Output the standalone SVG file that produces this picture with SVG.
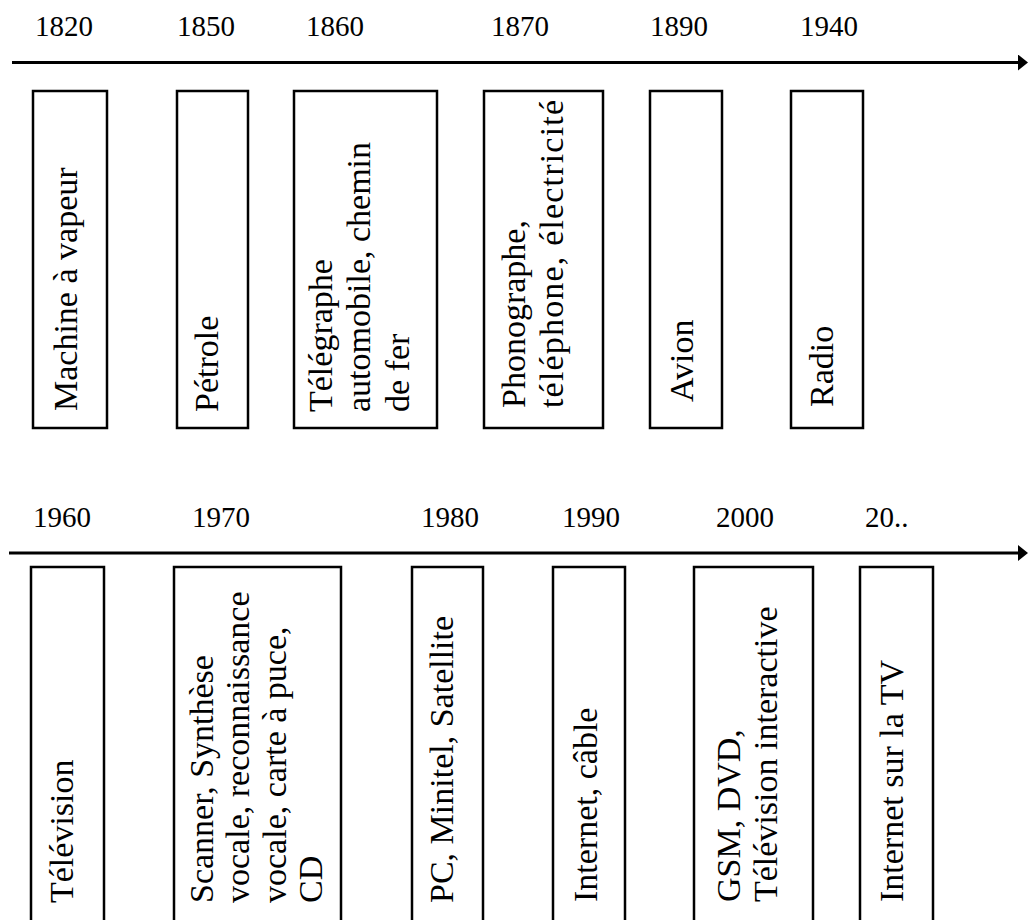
<svg xmlns="http://www.w3.org/2000/svg" width="1028" height="920" viewBox="0 0 1028 920">
<style>
.box{fill:none;stroke:#000;stroke-width:2.5}
.lbl{font-family:"Liberation Serif","Times New Roman",serif;font-size:34px;fill:#000}
.yr{font-family:"Liberation Serif","Times New Roman",serif;font-size:29px;fill:#000}
.axis{stroke:#000;stroke-width:3;fill:none}
</style>
<defs>
<marker id="arr" viewBox="0 0 10 16" refX="0" refY="8" markerWidth="10" markerHeight="16" markerUnits="userSpaceOnUse" orient="auto">
<path d="M0,0 L10,8 L0,16 z" fill="#000"/>
</marker>
</defs>
<rect width="1028" height="920" fill="#fff"/>
<g id="connectors">
<line class="axis" x1="12" y1="62.5" x2="1018" y2="62.5" marker-end="url(#arr)"/>
<line class="axis" x1="9" y1="553" x2="1018" y2="553" marker-end="url(#arr)"/>
</g>
<g id="years">
<text class="yr" x="35" y="36">1820</text>
<text class="yr" x="177" y="36">1850</text>
<text class="yr" x="306" y="36">1860</text>
<text class="yr" x="491" y="36">1870</text>
<text class="yr" x="650" y="36">1890</text>
<text class="yr" x="800" y="36">1940</text>
<text class="yr" x="33" y="527">1960</text>
<text class="yr" x="192" y="527">1970</text>
<text class="yr" x="421" y="527">1980</text>
<text class="yr" x="562" y="527">1990</text>
<text class="yr" x="716" y="527">2000</text>
<text class="yr" x="865" y="527">20..</text>
</g>
<g id="n1820">
<rect class="box" x="33" y="91" width="74" height="337"/>
<text class="lbl" transform="translate(77,411) rotate(-90)">Machine à vapeur</text>
</g>
<g id="n1850">
<rect class="box" x="177" y="91" width="71" height="337"/>
<text class="lbl" transform="translate(218,412) rotate(-90)">Pétrole</text>
</g>
<g id="n1860">
<rect class="box" x="294" y="91" width="143" height="337"/>
<text class="lbl" transform="translate(332,412) rotate(-90)">Télégraphe</text>
<text class="lbl" transform="translate(370,412) rotate(-90)">automobile, chemin</text>
<text class="lbl" transform="translate(409,412) rotate(-90)">de fer</text>
</g>
<g id="n1870">
<rect class="box" x="484" y="91" width="119" height="337"/>
<text class="lbl" transform="translate(525,408) rotate(-90)">Phonographe,</text>
<text class="lbl" transform="translate(563,408) rotate(-90)" textLength="308" lengthAdjust="spacing">téléphone, électricité</text>
</g>
<g id="n1890">
<rect class="box" x="650" y="91" width="72" height="337"/>
<text class="lbl" transform="translate(693,402) rotate(-90)">Avion</text>
</g>
<g id="n1940">
<rect class="box" x="791" y="91" width="72" height="337"/>
<text class="lbl" transform="translate(833,407) rotate(-90)">Radio</text>
</g>
<g id="n1960">
<rect class="box" x="31" y="567" width="73" height="370"/>
<text class="lbl" transform="translate(73,903) rotate(-90)">Télévision</text>
</g>
<g id="n1970">
<rect class="box" x="174" y="567" width="167" height="370"/>
<text class="lbl" transform="translate(213,903) rotate(-90)">Scanner, Synthèse</text>
<text class="lbl" transform="translate(249,903) rotate(-90)">vocale, reconnaissance</text>
<text class="lbl" transform="translate(286,903) rotate(-90)">vocale, carte à puce,</text>
<text class="lbl" transform="translate(322,903) rotate(-90)">CD</text>
</g>
<g id="n1980">
<rect class="box" x="412" y="567" width="71" height="370"/>
<text class="lbl" transform="translate(453,903) rotate(-90)">PC, Minitel, Satellite</text>
</g>
<g id="n1990">
<rect class="box" x="553" y="567" width="72" height="370"/>
<text class="lbl" transform="translate(597,902) rotate(-90)">Internet, câble</text>
</g>
<g id="n2000">
<rect class="box" x="694" y="567" width="119" height="370"/>
<text class="lbl" transform="translate(740,902) rotate(-90)">GSM, DVD,</text>
<text class="lbl" transform="translate(777,902) rotate(-90)">Télévision interactive</text>
</g>
<g id="n20xx">
<rect class="box" x="860" y="567" width="73" height="370"/>
<text class="lbl" transform="translate(903,902) rotate(-90)">Internet sur la TV</text>
</g>
</svg>
